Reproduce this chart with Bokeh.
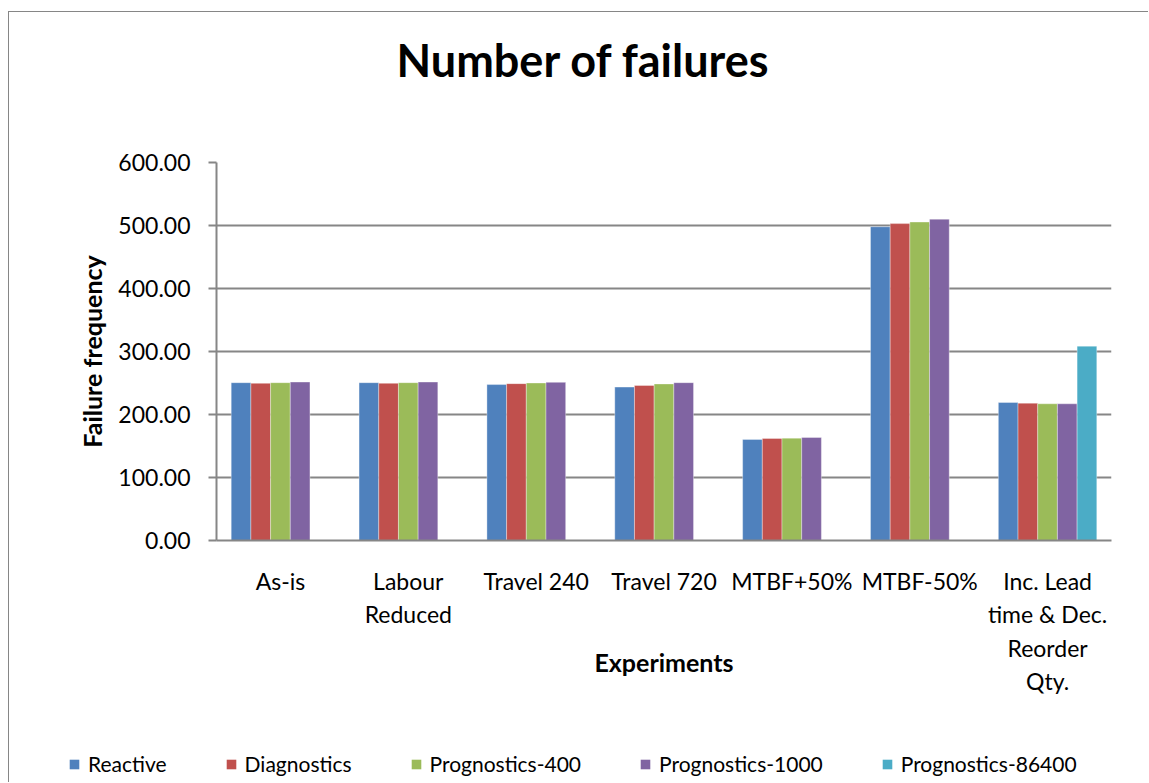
from bokeh.plotting import figure
from bokeh.layouts import column
from bokeh.models import (FactorRange, FixedTicker, NumeralTickFormatter, Legend,
                          LegendItem, ColumnDataSource, Title)
from bokeh.transform import dodge
from bokeh.embed import file_html
from bokeh.resources import INLINE

# ---- data ----
categories = ["As-is", "Labour\nReduced", "Travel 240", "Travel 720", "MTBF+50%",
              "MTBF-50%", "Inc. Lead\ntime & Dec.\nReorder\nQty."]
series_names = ["Reactive", "Diagnostics", "Prognostics-400", "Prognostics-1000",
                "Prognostics-86400"]
reactive = [250.5, 250.5, 247.5, 243.5, 160.5, 498.0, 219.0]
diagnostics = [249.5, 249.5, 249.0, 246.0, 162.0, 503.0, 218.0]
prognostics_400 = [250.5, 250.5, 250.0, 248.5, 162.5, 505.5, 217.0]
prognostics_1000 = [251.5, 251.5, 251.0, 250.5, 163.5, 510.0, 217.0]
prognostics_86400 = [0.0, 0.0, 0.0, 0.0, 0.0, 0.0, 308.5]
y_ticks = [0, 100, 200, 300, 400, 500, 600]

colors = ["#4F81BD", "#C0504D", "#9BBB59", "#8064A2", "#4BACC6"]
FONT = "Lato"
GRID = "#868686"

W = 1139
H_TITLE, H_MAIN, H_LEG = 110, 620, 40

# ---- title strip ----
pt = figure(width=W, height=H_TITLE, output_backend="svg", toolbar_location=None,
            x_axis_location=None, y_axis_location=None, min_border=0,
            x_range=(0, 1), y_range=(0, 1))
pt.title = Title(text="Number of failures", align="left", offset=180, standoff=36,
                 text_font=FONT, text_font_size="45px", text_font_style="bold",
                 text_color="black")
pt.grid.grid_line_color = None
pt.outline_line_color = None

# ---- main chart ----
source = ColumnDataSource(dict(cat=categories, s0=reactive, s1=diagnostics,
                               s2=prognostics_400, s3=prognostics_1000,
                               s4=prognostics_86400))
frame_top, frame_bottom = 150 - H_TITLE, 528 - H_TITLE
p = figure(x_range=FactorRange(*categories, range_padding=0), y_range=(0, 600),
           width=W, height=H_MAIN, output_backend="svg", toolbar_location=None,
           min_border_left=207, min_border_right=37, min_border_top=frame_top,
           min_border_bottom=H_MAIN - frame_bottom)

bw = 0.154
offsets = [-2 * bw, -bw, 0.0, bw, 2 * bw]
renderers = []
for i, (name, col) in enumerate(zip(series_names, colors)):
    r = p.vbar(x=dodge("cat", offsets[i], range=p.x_range), top=f"s{i}", width=bw,
               source=source, fill_color=col, line_color="white", line_alpha=0.35,
               line_width=1)
    renderers.append(r)

p.yaxis.ticker = FixedTicker(ticks=y_ticks)
p.yaxis.formatter = NumeralTickFormatter(format="0.00")
p.yaxis.major_label_text_font = FONT
p.yaxis.major_label_text_font_size = "23px"
p.yaxis.major_label_text_color = "black"
p.yaxis.major_label_standoff = 18
p.yaxis.major_tick_out = 8
p.yaxis.major_tick_in = 0
p.yaxis.minor_tick_line_color = None
p.yaxis.axis_line_color = GRID
p.yaxis.axis_line_width = 2
p.yaxis.major_tick_line_color = GRID
p.yaxis.major_tick_line_width = 2
p.yaxis.axis_label = "Failure frequency"
p.yaxis.axis_label_text_font = FONT
p.yaxis.axis_label_text_font_size = "25px"
p.yaxis.axis_label_text_font_style = "bold"
p.yaxis.axis_label_text_color = "black"
p.yaxis.axis_label_standoff = 8

xa = p.xaxis[0]
xa.major_label_text_font = FONT
xa.major_label_text_font_size = "23px"
xa.major_label_text_color = "black"
xa.major_label_text_line_height = 1.2
xa.major_label_standoff = 26
xa.major_tick_out = 0
xa.major_tick_in = 0
xa.major_tick_line_color = None
xa.minor_tick_line_color = None
xa.axis_line_color = GRID
xa.axis_line_width = 2
xa.axis_label = "Experiments"
xa.axis_label_text_font = FONT
xa.axis_label_text_font_size = "25px"
xa.axis_label_text_font_style = "bold"
xa.axis_label_text_color = "black"
xa.axis_label_standoff = -51

p.xgrid.grid_line_color = None
p.ygrid.ticker = FixedTicker(ticks=y_ticks)
p.ygrid.grid_line_color = GRID
p.ygrid.grid_line_width = 2
p.outline_line_color = None

chart = column(pt, p, spacing=0)
chart.styles = {"border-left": "1px solid #868686", "border-top": "1px solid #868686",
                "margin-top": "11px", "margin-left": "8px"}

# ---- legend strip (own root so that its frame spans the full width) ----
p2 = figure(width=W, height=H_LEG, output_backend="svg", toolbar_location=None,
            x_axis_location=None, y_axis_location=None, min_border=0,
            x_range=(0, 1), y_range=(0, 1))
p2.grid.grid_line_color = None
p2.outline_line_color = None
p2.styles = {"border-left": "1px solid #868686", "margin-left": "8px"}
leg_renderers = [p2.vbar(x=[0], top=[0], width=0, fill_color=c, line_color=None)
                 for c in colors]
legend = Legend(items=[LegendItem(label=n, renderers=[r])
                       for n, r in zip(series_names, leg_renderers)],
                orientation="horizontal", location=(59, 6), margin=0,
                label_text_font=FONT, label_text_font_size="21px", label_text_color="black",
                glyph_width=12, glyph_height=12, label_standoff=8, spacing=58,
                padding=0, border_line_color=None, background_fill_alpha=0)
p2.add_layout(legend, "center")

open("out.html", "w").write(file_html([chart, p2], INLINE))
